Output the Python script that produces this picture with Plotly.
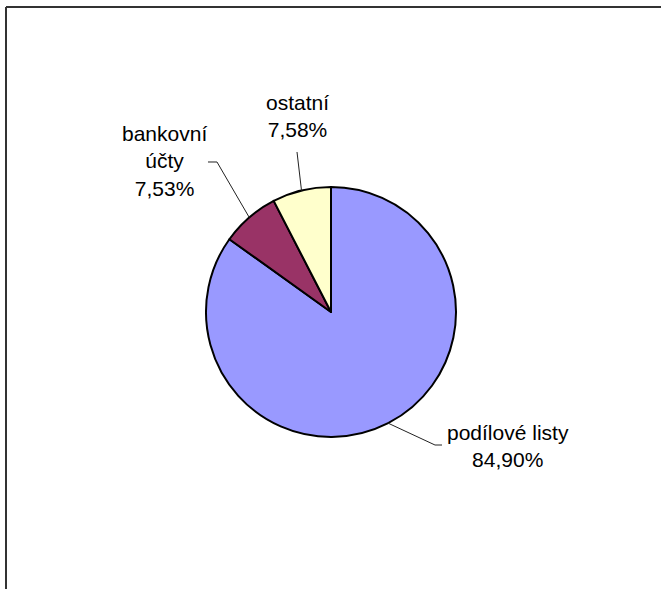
import math
import plotly.graph_objects as go

# Portfolio composition (percent)
categories = ["podílové listy", "bankovní<br>účty", "ostatní"]
shares = [84.90, 7.53, 7.58]
colors = ["#9999FF", "#993366", "#FFFFCC"]

W, H = 661, 589
CX, CY, R = 331, 312, 125  # pie centre and radius in pixels

# label block centres and leader-line elbows (pixels)
label_pos = [(508, 446), (164, 161), (297, 116)]
elbows = [[(435, 445), (442, 445)], [(217, 162), (208, 162)], [(297, 152)]]


def px(x, y):
    return x / W, 1 - y / H


fig = go.Figure()
fig.add_trace(go.Pie(
    labels=categories,
    values=shares,
    sort=False,
    direction="clockwise",
    rotation=0,
    marker=dict(colors=colors, line=dict(color="black", width=2)),
    textinfo="none",
    hoverinfo="label+percent",
    showlegend=False,
    domain=dict(x=[(CX - R) / W, (CX + R) / W],
                y=[1 - (CY + R) / H, 1 - (CY - R) / H]),
))

shapes = []
annotations = []
total = sum(shares)
start = 0.0
for name, val, (lx, ly), elbow in zip(categories, shares, label_pos, elbows):
    mid = (start + val / 2) / total * 2 * math.pi
    start += val
    ex = CX + R * math.sin(mid)
    ey = CY - R * math.cos(mid)
    pts = [(ex, ey)] + elbow
    path = "M " + " L ".join(f"{px(x, y)[0]:.5f},{px(x, y)[1]:.5f}" for x, y in pts)
    shapes.append(dict(type="path", path=path, xref="paper", yref="paper",
                       line=dict(color="#222222", width=1)))
    tx, ty = px(lx, ly)
    annotations.append(dict(
        x=tx, y=ty, xref="paper", yref="paper",
        text=f"{name}<br>{val:.2f}%".replace(".", ","),
        showarrow=False, xanchor="center", yanchor="middle",
        font=dict(family="Liberation Sans, Arial", size=21, color="black"),
    ))

# chart-area frame (top and left edges visible)
shapes.append(dict(type="line", xref="paper", yref="paper",
                   x0=px(6, 7)[0], y0=px(6, 7)[1], x1=1, y1=px(6, 7)[1],
                   line=dict(color="#333333", width=2)))
shapes.append(dict(type="line", xref="paper", yref="paper",
                   x0=px(6, 7)[0], y0=px(6, 7)[1], x1=px(6, 7)[0], y1=0,
                   line=dict(color="#333333", width=2)))

fig.update_layout(
    width=W, height=H,
    margin=dict(l=0, r=0, t=0, b=0),
    paper_bgcolor="white",
    plot_bgcolor="white",
    shapes=shapes,
    annotations=annotations,
)

fig.write_html("out.html")
